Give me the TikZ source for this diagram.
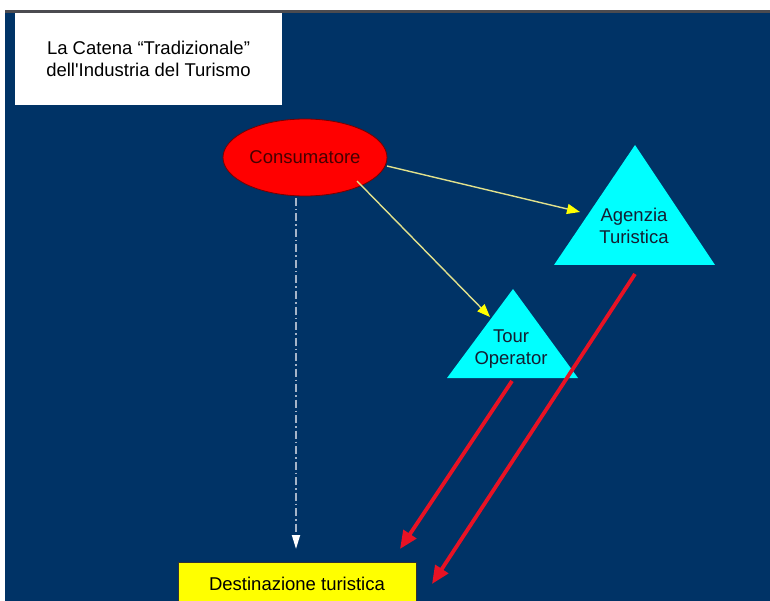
\documentclass[tikz,border=0pt]{standalone}
\usepackage{fontspec}
\setmainfont{Liberation Sans}
\usetikzlibrary{shapes.geometric,arrows.meta}
\definecolor{bgblue}{RGB}{0,51,102}
\definecolor{topgray}{RGB}{75,75,80}
\definecolor{trired}{RGB}{232,18,36}
\definecolor{paleyellow}{RGB}{225,225,140}
\definecolor{dashgray}{RGB}{165,180,200}
\definecolor{constext}{RGB}{70,0,0}
\definecolor{tritext}{RGB}{20,30,50}
\definecolor{cyanfill}{RGB}{0,255,255}
\definecolor{yellowfill}{RGB}{255,255,0}
\definecolor{redfill}{RGB}{255,0,0}
\begin{document}
\begin{tikzpicture}[x=1pt,y=-1pt,
  font=\fontsize{18.5}{22.5}\selectfont,
  tri/.style={fill=cyanfill},
  label/.style={align=center,inner sep=0pt,text=tritext},
  yarrow/.style={draw=paleyellow,line width=1.4pt,-{Triangle[length=13pt,width=10pt,color=yellowfill]}},
  rarrow/.style={draw=trired,line width=3.8pt,-{Triangle[length=18pt,width=15pt]}},
  darrow/.style={draw=dashgray,line width=1.8pt,dash pattern=on 8pt off 3pt on 1.5pt off 3pt,-{Triangle[length=14pt,width=8pt,color=white]}}]
\useasboundingbox (0,0) rectangle (770,601);
\fill[white] (0,0) rectangle (770,601);
\fill[topgray] (5,10) rectangle (770,13);
\fill[bgblue] (5,13) rectangle (770,601);
% title
\node[fill=white,minimum width=267pt,minimum height=92pt,align=center,inner sep=0pt,text=black] (title) at (148.5,59)
  {La Catena “Tradizionale”\\dell\textquotesingle Industria del Turismo};
% triangles
\fill[tri] (635,145) -- (715,265) -- (554,265) -- cycle;
\node[label] (agenzia) at (634,226) {Agenzia\\Turistica};
\fill[tri] (513,289) -- (578,378) -- (447,378) -- cycle;
\node[label] (tour) at (511,349) {Tour\\Operator};
% ellipse
\node[ellipse,fill=redfill,draw={rgb,255:red,120;green,0;blue,0},line width=0.8pt,minimum width=164pt,minimum height=77pt,inner sep=0pt,text=constext] (cons) at (305,157.5) {Consumatore};
% destination
\node[fill=yellowfill,draw=black!80,line width=0.6pt,minimum width=238pt,minimum height=46pt,inner sep=0pt,text=black] (dest) at (297,585) {};
\node[inner sep=0pt,text=black] (desttext) at (297,584) {Destinazione turistica};
% connector endpoints
\coordinate (c1) at (387,166); \coordinate (a1) at (580,212);
\coordinate (c2) at (357,181); \coordinate (t1) at (490,317);
\coordinate (c3) at (296,198); \coordinate (d1) at (296,549);
\coordinate (t2) at (512,381); \coordinate (d2) at (400,549);
\coordinate (a2) at (635,274); \coordinate (d3) at (432,584);
% connectors
\draw[yarrow] (c1) -- (a1);
\draw[yarrow] (c2) -- (t1);
\draw[darrow] (c3) -- (d1);
\draw[rarrow] (t2) -- (d2);
\draw[rarrow] (a2) -- (d3);
\end{tikzpicture}
\end{document}
